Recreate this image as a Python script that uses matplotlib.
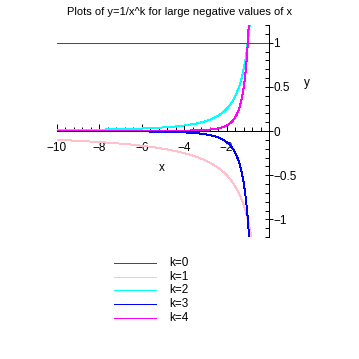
import numpy as np
import matplotlib
matplotlib.use("Agg")
import matplotlib.pyplot as plt
from matplotlib.lines import Line2D
from matplotlib.ticker import MultipleLocator

plt.rcParams['font.family'] = ['Liberation Sans Narrow', 'Liberation Sans', 'DejaVu Sans']

# exponents and colours for y = 1/x^k
ks = [0, 1, 2, 3, 4]
labels = ["k=0", "k=1", "k=2", "k=3", "k=4"]
colors = ["#ff0000", "#ffc0cb", "#00ffff", "#0000ff", "#ff00ff"]

x_min, x_max = -10, 0
y_min, y_max = -1.2, 1.2
lw = 0.7

fig = plt.figure(figsize=(3.59, 3.59), dpi=100)
ax = fig.add_axes([57/359, 1 - 237/359, 212/359, 212/359])

x = np.linspace(x_min, -0.8, 400)
for k, c in zip(ks, colors):
    if k == 0:
        xs = np.array([x_min, x_max])
        ax.plot(xs, np.ones_like(xs), color=c, lw=lw, antialiased=False)
    else:
        ax.plot(x, 1.0 / x**k, color=c, lw=lw, antialiased=False)

ax.set_xlim(x_min, x_max)
ax.set_ylim(y_min, y_max)

ax.spines['left'].set_visible(False)
ax.spines['top'].set_visible(False)
ax.spines['bottom'].set_position(('data', 0))
ax.spines['right'].set_position(('data', 0))
for s in ('bottom', 'right'):
    ax.spines[s].set_linewidth(lw)
    ax.spines[s].set_zorder(5)
    ax.spines[s].set_antialiased(False)

ax.yaxis.tick_right()
ax.xaxis.set_minor_locator(MultipleLocator(0.4))
ax.yaxis.set_minor_locator(MultipleLocator(0.1))
ax.set_xticks([-10, -8, -6, -4, -2])
ax.set_xticklabels(["\u221210", "\u22128", "\u22126", "\u22124", "\u22122"])
ax.set_yticks([-1, -0.5, 0, 0.5, 1])
ax.set_yticklabels(["\u22121", "\u22120.5", "0", "0.5", "1"])

ax.tick_params(axis='x', which='major', direction='in', length=5, width=lw,
               labelsize=8.5, pad=8)
ax.tick_params(axis='x', which='minor', direction='in', length=3, width=lw)
ax.tick_params(axis='y', which='major', direction='inout', length=6, width=lw,
               labelsize=8.5, pad=0)
ax.tick_params(axis='y', which='minor', direction='in', length=3, width=lw)

fig.text(162/359, 1 - 168/359, "x", fontsize=8.5, ha='center', va='center')
fig.text(307/359, 1 - 83/359, "y", fontsize=8.5, ha='center', va='center')
fig.text(180/359, 1 - 12/359, "Plots of y=1/x^k for large negative values of x",
         fontsize=8, ha='center', va='center')

# legend below the plot
for i, (lab, c) in enumerate(zip(labels, colors)):
    yy = 1 - (263 + i * 13.7) / 359
    fig.add_artist(Line2D([114/359, 156/359], [yy, yy], color=c, lw=lw,
                          antialiased=False))
    fig.text(169/359, yy, lab, fontsize=8.5, ha='left', va='center')

fig.savefig("out.png", dpi=100)
